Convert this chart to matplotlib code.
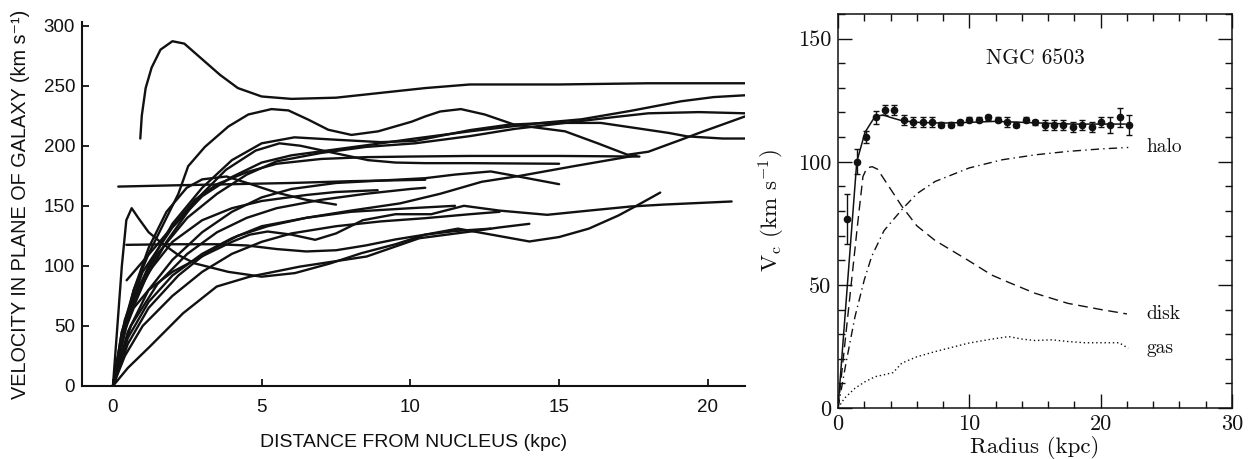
import matplotlib
matplotlib.use("Agg")
import matplotlib.pyplot as plt
from matplotlib.ticker import MultipleLocator

# ---------------- Left panel: rotation curves (Rubin et al.) ----------------
a_x = [0.92, 0.97, 1.1, 1.3, 1.6, 2.0, 2.4, 3.0, 3.6, 4.2, 5.0, 6.0, 7.5, 9.0, 10.5, 12.0, 15.0, 18.0, 21.25]
a_y = [206, 225, 248, 265, 280, 287, 285, 272, 259, 248, 241, 239, 240, 244, 248, 251, 251, 252, 252]

b_x = [0.0, 0.3, 0.7, 1.2, 1.7, 2.2, 2.53, 3.09, 3.88, 4.55, 5.33, 5.9, 6.57, 7.24, 8.02, 8.92, 10.04, 10.5,
       11.0, 11.7, 12.5, 13.5, 15.2, 16.3, 17.3, 18.0, 19.1, 19.7, 21.25]
b_y = [0, 45, 80, 110, 135, 160, 183, 199, 216, 226, 230.5, 229.4, 221.7, 213.3, 209, 212, 220, 224.4,
       228.5, 230.5, 226, 217.5, 212, 202, 192.5, 195, 205, 210.6, 224.4]

c3_x = [0.0, 0.4, 1.0, 2.0, 3.0, 4.0, 5.0, 6.0, 7.5, 9.0, 10.15, 12.0, 14.4, 15.75, 17.4, 19.1, 20.2, 21.25]
c3_y = [0, 55, 95, 132, 158, 174, 186, 192, 197, 202, 206, 212, 219, 222, 229, 237, 240.5, 242]

c4_x = [0.0, 0.3, 0.8, 1.5, 2.5, 3.5, 4.5, 5.5, 7.0, 8.5, 10.15, 12.0, 13.5, 15.2, 16.9, 18.0, 19.7, 21.25]
c4_y = [0, 45, 80, 110, 140, 160, 176, 187, 194, 199, 202, 208, 214, 219, 224, 227, 228, 227]

c5_x = [0.0, 0.5, 1.2, 2.0, 3.0, 4.0, 5.0, 6.1, 7.5, 9.0, 10.15, 12.0, 13.3, 14.6, 16.4, 17.5, 18.7, 19.3, 20.5, 21.25]
c5_y = [0, 60, 100, 135, 165, 188, 202, 207, 205, 203, 204, 213, 217.5, 219, 219, 215, 210.6, 207.8, 206, 206]

d_x = [0.0, 0.4, 1.0, 1.8, 2.8, 3.8, 4.8, 5.6, 6.3, 7.24, 8.58, 9.5, 10.5, 12.0, 15.0]
d_y = [0, 50, 85, 120, 155, 180, 196, 202, 200, 195, 188, 186, 185.5, 185.5, 185]

f191_x = [0.46, 1.5, 2.76, 3.5, 4.5, 5.5, 7.0, 8.5, 10.0, 12.0, 15.0, 17.7]
f191_y = [88, 118, 155, 168, 178, 185, 189, 190.5, 191, 191.5, 191.5, 191]

e7_x = [0.0, 0.5, 1.2, 2.0, 3.0, 4.0, 5.0, 6.0, 7.5, 9.0, 10.5, 11.5, 12.7, 13.5, 15.0]
e7_y = [0, 45, 80, 105, 128, 145, 157, 164, 169, 171, 173, 176, 178.6, 175, 168]

e8_x = [0.18, 2.0, 4.0, 6.0, 8.0, 10.5]
e8_y = [166, 167, 168, 169, 170.5, 171.7]

r_x = [0.0, 0.5, 1.2, 2.0, 3.0, 4.0, 5.0, 6.5, 8.0, 9.65, 11.0, 12.4, 13.7, 15.5, 17.6]
r_y = [0, 40, 70, 92, 110, 123, 133, 140, 146, 152, 160, 170, 175, 183, 192]

l1_x = [0.0, 0.3, 0.7, 1.2, 2.0, 3.0, 4.0, 4.6, 5.2, 6.0, 6.8, 7.5, 8.4, 9.5, 10.7, 11.8, 13.0, 14.6, 16.0, 17.4, 18.5, 20.8]
l1_y = [0, 40, 65, 80, 95, 108, 120, 126, 128.6, 126, 121.7, 127, 138, 143, 143, 150, 146, 142.5, 146, 149.4, 151, 153.6]

p_x = [0.0, 0.15, 0.3, 0.45, 0.63, 0.85, 1.2, 1.64, 2.2, 2.76, 3.88, 5.0, 6.12, 7.3, 8.36, 9.5, 10.5, 11.6, 12.5,
       14.0, 15.0, 16.0, 17.0, 17.6, 18.4]
p_y = [0, 50, 100, 138, 148, 140, 128, 119, 109, 102, 95, 91, 94, 102, 110.6, 118, 126, 131, 127,
       120.3, 124, 131, 142, 150, 161]

l3_x = [0.0, 0.5, 1.24, 2.36, 3.49, 4.6, 6.29, 8.53, 10.3, 12.0, 13.0, 14.0]
l3_y = [0, 15, 32.8, 60.6, 82.8, 91, 99.4, 107.8, 123, 128.5, 132, 135]

fl_x = [0.45, 2.0, 3.5, 4.5, 5.5, 6.5, 7.5, 8.5, 9.5, 10.5, 11.5, 12.7]
fl_y = [117.5, 118, 118, 117, 114, 112, 113, 117, 122, 126, 129, 131]

g_x = [0.0, 0.4, 1.0, 2.0, 3.0, 4.0, 5.0, 6.0, 7.5, 9.0, 10.5, 12.0, 13.0]
g_y = [0, 25, 50, 75, 95, 110, 120, 127, 133, 137, 139.7, 143, 145]

h_x = [0.0, 0.3, 0.7, 1.2, 1.8, 2.48, 3.0, 3.82, 4.7, 5.5, 6.5, 7.5]
h_y = [0, 40, 80, 115, 145, 165, 172, 174.4, 167.5, 161, 155, 151]

i_x = [0.0, 0.5, 1.2, 2.0, 3.0, 4.0, 5.0, 6.5, 7.5, 8.9]
i_y = [0, 55, 95, 120, 138, 148, 154, 159, 161.5, 163]

j_x = [0.0, 0.6, 1.5, 2.5, 3.5, 4.5, 5.5, 7.0, 8.5, 10.0, 10.5]
j_y = [0, 50, 85, 110, 128, 140, 148, 155, 160, 164, 165]

k_x = [0.0, 0.5, 1.2, 2.2, 3.2, 4.2, 5.2, 6.5, 8.0, 10.0, 11.5]
k_y = [0, 35, 65, 92, 112, 125, 133, 140, 145, 148, 150]

left_curves = [(a_x, a_y), (b_x, b_y), (c3_x, c3_y), (c4_x, c4_y), (c5_x, c5_y), (d_x, d_y),
               (f191_x, f191_y), (e7_x, e7_y), (e8_x, e8_y), (r_x, r_y), (l1_x, l1_y), (p_x, p_y),
               (l3_x, l3_y), (fl_x, fl_y), (g_x, g_y), (h_x, h_y), (i_x, i_y), (j_x, j_y), (k_x, k_y)]

left_xticks = [0, 5, 10, 15, 20]
left_yticks = [0, 50, 100, 150, 200, 250, 300]

# ---------------- Right panel: NGC 6503 ----------------
obs_r = [0.72, 1.43, 2.15, 2.86, 3.58, 4.29, 5.01, 5.72, 6.44, 7.15, 7.87, 8.58, 9.30, 10.01, 10.73, 11.44,
         12.16, 12.87, 13.59, 14.30, 15.02, 15.73, 16.45, 17.16, 17.88, 18.59, 19.31, 20.02, 20.74, 21.45, 22.17]
obs_v = [76.8, 100, 110, 118, 121, 121, 117, 116, 116, 116, 115, 115, 116, 117, 117, 118,
         117, 116, 115, 117, 116, 115, 115, 115, 114, 115, 114, 116, 115, 118, 115]
obs_err = [10, 5, 2.5, 2.5, 2, 2, 2, 2, 2, 2, 1, 1, 1, 1, 1, 1,
           1, 2, 1, 1, 1, 2, 2, 2, 2, 2, 2, 2, 3.3, 3.7, 4]

fit_r = [0.0, 1.43, 2.06, 2.82, 3.45, 4.0, 4.85, 6.0, 8.0, 10.0, 12.0, 14.0, 16.0, 18.0, 20.0, 21.86]
fit_v = [0, 100, 112, 118.4, 119, 118, 116.7, 116, 115.7, 116, 116.4, 116, 115.6, 115.3, 115.3, 115.3]

disk_r = [0.0, 0.5, 1.0, 1.5, 1.9, 2.2, 2.6, 3.0, 3.5, 4.85, 6.0, 7.4, 9.9, 11.7, 13.0, 15.0, 17.5, 20.0, 22.0]
disk_v = [0, 25, 50, 75, 94, 97.5, 98, 97, 93, 82, 74, 68, 60, 54, 51, 46.6, 42.5, 40, 38.2]

halo_r = [0.0, 0.6, 1.29, 2.0, 2.56, 3.5, 4.85, 6.0, 7.4, 10.0, 12.5, 15.0, 17.5, 20.0, 22.1]
halo_v = [0, 18, 37, 52, 61.5, 72, 80.5, 87, 92, 97.5, 100.8, 102.8, 104.2, 105.2, 105.8]

gas_r = [0.0, 0.5, 1.29, 2.0, 2.82, 3.5, 4.2, 4.85, 6.0, 7.4, 9.9, 11.5, 13.0, 14.0, 15.0, 16.3, 17.5, 18.8, 21.4, 22.1]
gas_v = [0, 4, 8, 10.5, 12.7, 13.5, 14.4, 18.2, 20.8, 22.9, 26.3, 27.8, 29, 28, 27.4, 27.7, 27, 26.5, 26.5, 24.3]

component_labels = ["halo", "disk", "gas"]

# ---------------- Figure ----------------
plt.rcParams['mathtext.fontset'] = 'cm'
fig = plt.figure(figsize=(12.56, 4.59), dpi=100)
ink = '#111111'

# Left panel
axl = fig.add_axes([82 / 1256, 73 / 459, 663 / 1256, 364 / 459])
for cx, cy in left_curves:
    axl.plot(cx, cy, color=ink, lw=1.7, solid_joinstyle='round', solid_capstyle='round')
axl.set_xlim(-1.04, 21.25)
axl.set_ylim(0, 303)
axl.spines['top'].set_visible(False)
axl.spines['right'].set_visible(False)
for s in ('left', 'bottom'):
    axl.spines[s].set_linewidth(1.5)
    axl.spines[s].set_color(ink)
axl.set_xticks(left_xticks)
axl.set_yticks(left_yticks)
sans = ['Liberation Sans', 'DejaVu Sans']
axl.tick_params(direction='in', length=5, width=1.3, colors=ink, labelsize=13.5, pad=5)
for lab in axl.get_xticklabels() + axl.get_yticklabels():
    lab.set_family(sans)
axl.tick_params(axis='x', pad=9)
axl.set_xlabel('DISTANCE FROM NUCLEUS (kpc)', family=sans, fontsize=14, color=ink, labelpad=13)
axl.set_ylabel('VELOCITY IN PLANE OF GALAXY (km s\u207b\u00b9)', family=sans, fontsize=14.3, color=ink,
               labelpad=10)

# Right panel
serif = ['cmr10', 'DejaVu Serif']
axr = fig.add_axes([838 / 1256, 51 / 459, 394 / 1256, 394 / 459])
axr.plot(fit_r, fit_v, color=ink, lw=1.1)
axr.errorbar(obs_r, obs_v, yerr=obs_err, fmt='o', color=ink, ms=4.5, elinewidth=1.0, capsize=2.5, capthick=1.0)
axr.plot(disk_r, disk_v, color=ink, lw=1.0, linestyle=(0, (7, 4)))
axr.plot(halo_r, halo_v, color=ink, lw=1.0, linestyle=(0, (6, 3, 1, 3)))
axr.plot(gas_r, gas_v, color=ink, lw=1.0, linestyle=(0, (1, 2)))
axr.set_xlim(0, 30)
axr.set_ylim(0, 160)
axr.xaxis.set_major_locator(MultipleLocator(10))
axr.xaxis.set_minor_locator(MultipleLocator(2))
axr.yaxis.set_major_locator(MultipleLocator(50))
axr.yaxis.set_minor_locator(MultipleLocator(10))
axr.tick_params(which='both', direction='in', top=True, right=True, colors=ink, width=1.0)
axr.tick_params(which='major', length=10, labelsize=16, pad=5)
axr.tick_params(which='minor', length=5)
for lab in axr.get_xticklabels() + axr.get_yticklabels():
    lab.set_family(serif)
for s in axr.spines.values():
    s.set_linewidth(1.1)
    s.set_color(ink)
axr.set_xlabel('Radius (kpc)', family=serif, fontsize=16.5, color=ink, labelpad=1)
axr.set_ylabel(r'V$_{\rm c}$ (km s$^{-1}$)', family=serif, fontsize=16.5, color=ink, labelpad=8)
axr.text(15, 142, 'NGC 6503', family=serif, fontsize=15.5, ha='center', va='center', color=ink)
axr.text(23.5, halo_v[-1], component_labels[0], family=serif, fontsize=14, ha='left', va='center', color=ink)
axr.text(23.5, disk_v[-1], component_labels[1], family=serif, fontsize=14, ha='left', va='center', color=ink)
axr.text(23.5, gas_v[-1], component_labels[2], family=serif, fontsize=14, ha='left', va='center', color=ink)

fig.savefig('out.png', dpi=100, facecolor='white')
